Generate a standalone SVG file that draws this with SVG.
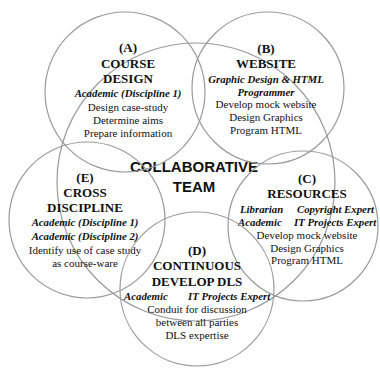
<svg xmlns="http://www.w3.org/2000/svg" width="380" height="368" viewBox="0 0 380 368">
<style>
.c{fill:none;stroke:#9a9a9a;stroke-width:1.2}
text{font-family:"Liberation Serif","Times New Roman",serif;fill:#111;text-anchor:middle}
.h{font-size:13px;font-weight:bold}
.r{font-size:10.8px;font-weight:bold;font-style:italic}
.t{font-size:11px}
.s{text-anchor:start}
.m{font-family:"Liberation Sans",Arial,sans-serif;font-size:15px;font-weight:bold}
</style>
<rect width="380" height="368" fill="#fff"/>
<g id="team">
<circle class="c" cx="196" cy="182" r="139"/>
<text class="m" x="194" y="171.5">COLLABORATIVE</text>
<text class="m" x="194" y="191.5">TEAM</text>
</g>
<g id="nodeA">
<circle class="c" cx="125" cy="92" r="80"/>
<text class="h" x="128" y="52">(A)</text>
<text class="h" x="128" y="67.5">COURSE</text>
<text class="h" x="128" y="83">DESIGN</text>
<text class="r" x="128" y="97">Academic (Discipline 1)</text>
<text class="t" x="128" y="111">Design case-study</text>
<text class="t" x="128" y="124">Determine aims</text>
<text class="t" x="128" y="137">Prepare information</text>
</g>
<g id="nodeB">
<circle class="c" cx="268" cy="88" r="76"/>
<text class="h" x="266" y="53">(B)</text>
<text class="h" x="266" y="68">WEBSITE</text>
<text class="r" x="266" y="82.5">Graphic Design &amp; HTML</text>
<text class="r" x="266" y="95.5">Programmer</text>
<text class="t" x="266" y="108">Develop mock website</text>
<text class="t" x="266" y="121">Design Graphics</text>
<text class="t" x="266" y="134">Program HTML</text>
</g>
<g id="nodeE">
<circle class="c" cx="87" cy="220" r="78"/>
<text class="h" x="85" y="182">(E)</text>
<text class="h" x="85" y="197">CROSS</text>
<text class="h" x="85" y="212">DISCIPLINE</text>
<text class="r" x="85" y="226">Academic (Discipline 1)</text>
<text class="r" x="85" y="240">Academic (Discipline 2)</text>
<text class="t" x="85" y="254">Identify use of case study</text>
<text class="t" x="85" y="267">as course-ware</text>
</g>
<g id="nodeC">
<circle class="c" cx="303" cy="226" r="75"/>
<text class="h" x="307" y="183">(C)</text>
<text class="h" x="307" y="198">RESOURCES</text>
<text class="r s" x="240" y="213">Librarian</text>
<text class="r s" x="297" y="213">Copyright Expert</text>
<text class="r s" x="238" y="226">Academic</text>
<text class="r s" x="294" y="226">IT Projects Expert</text>
<text class="t" x="307" y="239">Develop mock website</text>
<text class="t" x="307" y="251.5">Design Graphics</text>
<text class="t" x="307" y="264">Program HTML</text>
</g>
<g id="nodeD">
<circle class="c" cx="197" cy="289" r="77"/>
<text class="h" x="197" y="255">(D)</text>
<text class="h" x="197" y="270">CONTINUOUS</text>
<text class="h" x="197" y="286">DEVELOP DLS</text>
<text class="r s" x="124" y="300">Academic</text>
<text class="r s" x="188" y="300">IT Projects Expert</text>
<text class="t" x="197" y="313">Conduit for discussion</text>
<text class="t" x="197" y="326">between all parties</text>
<text class="t" x="197" y="339">DLS expertise</text>
</g>
<g id="connectors"></g>
</svg>
